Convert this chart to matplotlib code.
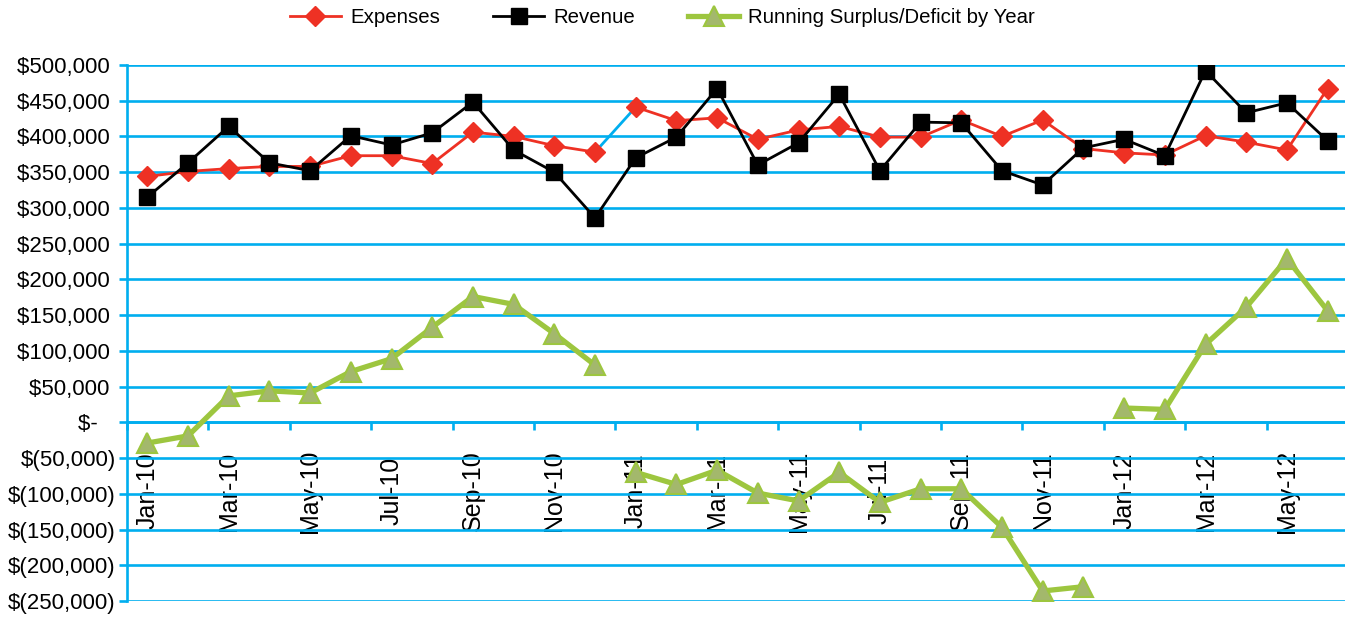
import numpy as np
import matplotlib.pyplot as plt
from matplotlib import font_manager
from matplotlib.ticker import FuncFormatter

# %% data
months = ['Jan-10', 'Feb-10', 'Mar-10', 'Apr-10', 'May-10', 'Jun-10', 'Jul-10', 'Aug-10',
          'Sep-10', 'Oct-10', 'Nov-10', 'Dec-10',
          'Jan-11', 'Feb-11', 'Mar-11', 'Apr-11', 'May-11', 'Jun-11', 'Jul-11', 'Aug-11',
          'Sep-11', 'Oct-11', 'Nov-11', 'Dec-11',
          'Jan-12', 'Feb-12', 'Mar-12', 'Apr-12', 'May-12', 'Jun-12']

expenses = [344000, 351000, 355000, 358000, 358000, 373000, 373000, 362000,
            406000, 400000, 387000, 378000,
            441000, 422000, 426000, 396000, 409000, 414000, 399000, 399000,
            423000, 400000, 423000, 383000,
            377000, 374000, 401000, 392000, 381000, 467000]

revenue = [315000, 363000, 414000, 363000, 352000, 401000, 388000, 405000,
           448000, 381000, 350000, 286000,
           370000, 399000, 467000, 360000, 391000, 459000, 352000, 420000,
           419000, 352000, 332000, 384000,
           396000, 373000, 492000, 433000, 447000, 394000]

surplus = [-29000, -19000, 37000, 44000, 41000, 71000, 89000, 133000,
           176000, 165000, 124000, 80000,
           -70000, -87000, -67000, -99000, -110000, -70000, -112000, -93000,
           -93000, -147000, -236000, -230000,
           20000, 18000, 109000, 161000, 229000, 156000]

year_starts = [0, 12, 24, 30]

# %% styling
cyan = '#00AEEF'
red = '#EE3124'
green = '#9DC63F'
green_fill = '#A3B86C'

# y labels use a narrow face in the original; fall back to a smaller size
installed = {f.name for f in font_manager.fontManager.ttflist}
if 'Liberation Sans Narrow' in installed:
    ylab_family, ylab_size = 'Liberation Sans Narrow', 20
else:
    ylab_family, ylab_size = 'Liberation Sans', 16

x = np.arange(len(months))

fig = plt.figure(figsize=(13.45, 6.19), dpi=100)
ax = fig.add_axes([0.0944, 0.0291, 0.9078, 0.866])

# horizontal grid
ax.set_ylim(-250000, 500000)
ax.set_xlim(-0.5, len(months) - 0.5)
ax.set_yticks(np.arange(-250000, 500001, 50000))
ax.grid(axis='y', color=cyan, lw=1.9)
ax.set_axisbelow(True)

# expenses: the Dec-10 -> Jan-11 link is drawn in blue in the original
ax.plot(x[11:13], expenses[11:13], color=cyan, lw=2, zorder=2)
ax.plot(x[:12], expenses[:12], color=red, lw=2, marker='D', ms=10,
        mec=red, mfc=red, zorder=3, label='Expenses')
ax.plot(x[12:], expenses[12:], color=red, lw=2, marker='D', ms=10,
        mec=red, mfc=red, zorder=3)

ax.plot(x, revenue, color='black', lw=2, marker='s', ms=11, zorder=4,
        label='Revenue')

for k in range(3):
    s, e = year_starts[k], year_starts[k + 1]
    ax.plot(x[s:e], surplus[s:e], color=green, lw=3.8, marker='^', ms=15,
            mfc=green_fill, mec=green, mew=1.5, zorder=5,
            label='Running Surplus/Deficit by Year' if k == 0 else None)

# axes / spines
for side in ['top', 'right']:
    ax.spines[side].set_visible(False)
ax.spines['left'].set_color(cyan)
ax.spines['left'].set_linewidth(1.9)
ax.spines['bottom'].set_position(('data', 0))
ax.spines['bottom'].set_color(cyan)
ax.spines['bottom'].set_linewidth(1.9)

ax.set_xticks(x[::2])
ax.set_xticklabels(months[::2], rotation=90, va='center', ha='center',
                   fontsize=18, family='Liberation Sans')
ax.set_xticks(np.arange(-0.5, len(months), 2), minor=True)
ax.tick_params(axis='x', which='major', length=0, pad=49.5)
ax.tick_params(axis='x', which='minor', length=6, width=1.9, color=cyan,
               direction='out')


def money(v, pos):
    if v == 0:
        return '$-   '
    if v < 0:
        return '$({:,.0f})'.format(-v)
    return '${:,.0f} '.format(v)


ax.yaxis.set_major_formatter(FuncFormatter(money))
ax.tick_params(axis='y', length=6, width=1.9, color=cyan, pad=2)
for lab in ax.get_yticklabels():
    lab.set_family(ylab_family)
    lab.set_fontsize(ylab_size)

fig.legend(loc='center', bbox_to_anchor=(0.4926, 0.971), ncol=3, frameon=False,
           prop={'family': 'Liberation Sans', 'size': 14.7},
           handlelength=2.5, handletextpad=0.45, columnspacing=2.6)

fig.savefig('out.png', dpi=100)
